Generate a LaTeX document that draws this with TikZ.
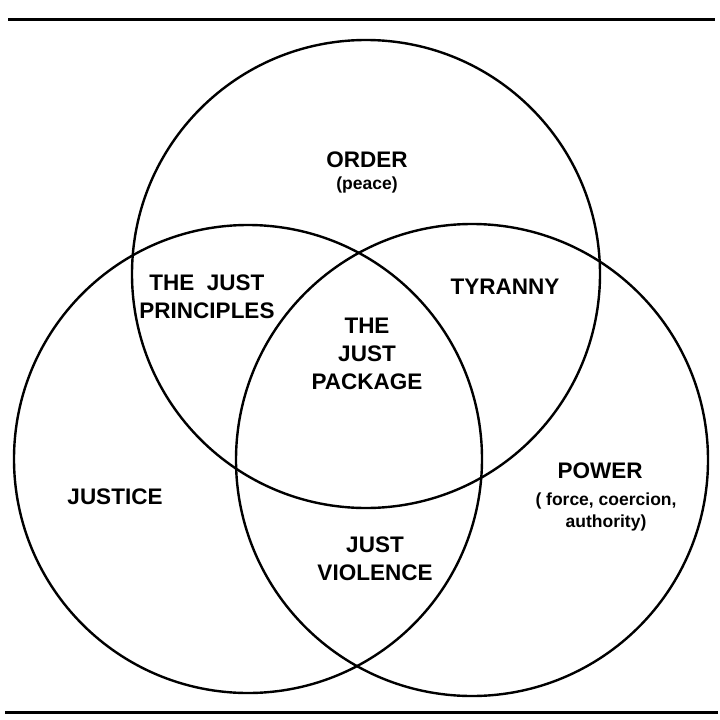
\documentclass[tikz,border=0pt]{standalone}
\usepackage{fontspec}
\setmainfont{Liberation Sans}
\begin{document}
\begin{tikzpicture}[x=1pt,y=-1pt,
  ring/.style={draw=black,line width=2.4pt},
  rule/.style={draw=black,line width=3pt},
  big/.style={font=\fontsize{22.5}{28}\selectfont\bfseries,align=center,inner sep=0pt},
  small/.style={font=\fontsize{17.5}{21.5}\selectfont\bfseries,align=center,inner sep=0pt}]
\useasboundingbox (0,0) rectangle (720,720);
\coordinate (tl) at (8,19);
\coordinate (tr) at (715,19);
\coordinate (bl) at (5,712);
\coordinate (br) at (718,712);
\draw[rule] (tl) -- (tr);
\draw[rule] (bl) -- (br);
\draw[ring] (366,274) circle (234);
\draw[ring] (248,459) circle (234);
\draw[ring] (472,460) circle (236);
\node[big] (order) at (367,160) {ORDER};
\node[small] (peace) at (367,185) {(peace)};
\node[big] (princ) at (207,297) {THE\ \ JUST\\PRINCIPLES};
\node[big] (tyr) at (505,287) {TYRANNY};
\node[big] (pack) at (367,354) {THE\\JUST\\PACKAGE};
\node[big] (justice) at (115,497) {JUSTICE};
\node[big] (power) at (600,471) {POWER};
\node[small] (force) at (606,512) {( force, coercion,\\authority)};
\node[big] (viol) at (375,559) {JUST\\VIOLENCE};
\end{tikzpicture}
\end{document}
